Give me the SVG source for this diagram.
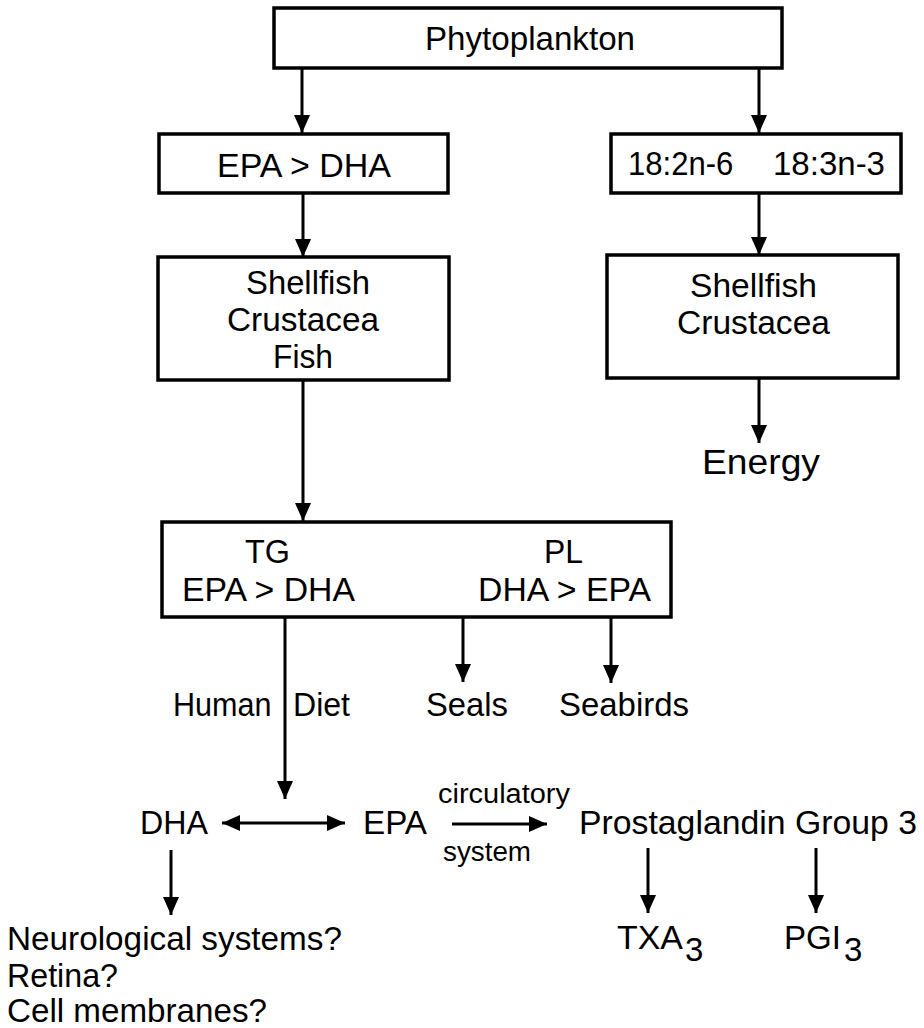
<svg xmlns="http://www.w3.org/2000/svg" width="924" height="1028" viewBox="0 0 924 1028">
<defs>
<style>
.box{fill:#fff;stroke:#000;stroke-width:3.5}
.t{font-family:"Liberation Sans",Arial,Helvetica,sans-serif;font-size:33px;fill:#000}
.s{font-family:"Liberation Sans",Arial,Helvetica,sans-serif;font-size:27px;fill:#000}
.ln{stroke:#000;stroke-width:3;fill:none}
</style>
<marker id="ah" markerUnits="userSpaceOnUse" markerWidth="19" markerHeight="17" refX="18" refY="8" orient="auto-start-reverse" viewBox="0 0 19 17">
<path d="M0,0 L18,8 L0,16 z" fill="#000"/>
</marker>
</defs>
<rect width="924" height="1028" fill="#fff"/>

<g id="connectors">
<line class="ln" x1="302" y1="68" x2="302" y2="133" marker-end="url(#ah)"/>
<line class="ln" x1="759" y1="68" x2="759" y2="133" marker-end="url(#ah)"/>
<line class="ln" x1="303" y1="193" x2="303" y2="257" marker-end="url(#ah)"/>
<line class="ln" x1="759" y1="193" x2="759" y2="255" marker-end="url(#ah)"/>
<line class="ln" x1="303" y1="380" x2="303" y2="521" marker-end="url(#ah)"/>
<line class="ln" x1="759" y1="378" x2="759" y2="443" marker-end="url(#ah)"/>
<line class="ln" x1="285" y1="617" x2="285" y2="799" marker-end="url(#ah)"/>
<line class="ln" x1="463" y1="617" x2="463" y2="682" marker-end="url(#ah)"/>
<line class="ln" x1="611" y1="617" x2="611" y2="683" marker-end="url(#ah)"/>
<line class="ln" x1="222" y1="823" x2="345" y2="823" marker-start="url(#ah)" marker-end="url(#ah)"/>
<line class="ln" x1="452" y1="824" x2="547" y2="824" marker-end="url(#ah)"/>
<line class="ln" x1="171" y1="850" x2="171" y2="915" marker-end="url(#ah)"/>
<line class="ln" x1="648" y1="848" x2="648" y2="913" marker-end="url(#ah)"/>
<line class="ln" x1="816" y1="848" x2="816" y2="913" marker-end="url(#ah)"/>
</g>

<g id="phytoplankton">
<rect class="box" x="274" y="8" width="508" height="60"/>
<text class="t" x="425" y="50" textLength="210" lengthAdjust="spacingAndGlyphs">Phytoplankton</text>
</g>

<g id="epa-dha-top">
<rect class="box" x="159" y="134" width="289" height="59"/>
<text class="t" x="217" y="177" textLength="174" lengthAdjust="spacingAndGlyphs">EPA &gt; DHA</text>
</g>

<g id="fatty-acids">
<rect class="box" x="611" y="134" width="290" height="59"/>
<text class="t" y="175"><tspan x="628" textLength="114" lengthAdjust="spacingAndGlyphs">18:2n-6 </tspan><tspan x="773" textLength="112" lengthAdjust="spacingAndGlyphs">18:3n-3</tspan></text>
</g>

<g id="shellfish-left">
<rect class="box" x="158" y="257" width="291" height="123"/>
<text class="t" x="246" y="294" textLength="124" lengthAdjust="spacingAndGlyphs">Shellfish</text>
<text class="t" x="227" y="331" textLength="152" lengthAdjust="spacingAndGlyphs">Crustacea</text>
<text class="t" x="273" y="368" textLength="60" lengthAdjust="spacingAndGlyphs">Fish</text>
</g>

<g id="shellfish-right">
<rect class="box" x="607" y="255" width="291" height="123"/>
<text class="t" x="690" y="297" textLength="127" lengthAdjust="spacingAndGlyphs">Shellfish</text>
<text class="t" x="677" y="334" textLength="153" lengthAdjust="spacingAndGlyphs">Crustacea</text>
</g>

<g id="energy">
<text class="t" x="702" y="474" style="font-size:35px" textLength="118" lengthAdjust="spacingAndGlyphs">Energy</text>
</g>

<g id="tg-pl">
<rect class="box" x="162" y="522" width="509" height="95"/>
<text class="t" x="245" y="563" textLength="45" lengthAdjust="spacingAndGlyphs">TG</text>
<text class="t" x="182" y="601" textLength="173" lengthAdjust="spacingAndGlyphs">EPA &gt; DHA</text>
<text class="t" x="544" y="563" textLength="39" lengthAdjust="spacingAndGlyphs">PL</text>
<text class="t" x="478" y="601" textLength="173" lengthAdjust="spacingAndGlyphs">DHA &gt; EPA</text>
</g>

<g id="human-diet">
<text class="t" y="716"><tspan x="173" textLength="107" lengthAdjust="spacingAndGlyphs">Human </tspan><tspan x="293" textLength="57" lengthAdjust="spacingAndGlyphs">Diet</tspan></text>
</g>
<g id="seals">
<text class="t" x="426" y="716" textLength="82" lengthAdjust="spacingAndGlyphs">Seals</text>
</g>
<g id="seabirds">
<text class="t" x="559" y="716" textLength="130" lengthAdjust="spacingAndGlyphs">Seabirds</text>
</g>

<g id="dha">
<text class="t" x="140" y="834" textLength="68" lengthAdjust="spacingAndGlyphs">DHA</text>
</g>
<g id="epa">
<text class="t" x="363" y="834" textLength="64" lengthAdjust="spacingAndGlyphs">EPA</text>
</g>
<g id="circulatory-label">
<text class="s" x="438" y="803" textLength="132" lengthAdjust="spacingAndGlyphs">circulatory</text>
<text class="s" x="443" y="861" textLength="88" lengthAdjust="spacingAndGlyphs">system</text>
</g>
<g id="prostaglandin">
<text class="t" x="579" y="834" textLength="338" lengthAdjust="spacingAndGlyphs">Prostaglandin Group 3</text>
</g>

<g id="dha-effects">
<text class="t" x="7" y="950" textLength="335" lengthAdjust="spacingAndGlyphs">Neurological systems?</text>
<text class="t" x="7" y="987" textLength="111" lengthAdjust="spacingAndGlyphs">Retina?</text>
<text class="t" x="7" y="1022" textLength="260" lengthAdjust="spacingAndGlyphs">Cell membranes?</text>
</g>

<g id="txa3">
<text class="t" y="949"><tspan x="617" textLength="66" lengthAdjust="spacingAndGlyphs">TXA</tspan><tspan x="685" dy="12">3</tspan></text>
</g>
<g id="pgi3">
<text class="t" y="949"><tspan x="784" textLength="57" lengthAdjust="spacingAndGlyphs">PGI</tspan><tspan x="844" dy="12">3</tspan></text>
</g>
</svg>
